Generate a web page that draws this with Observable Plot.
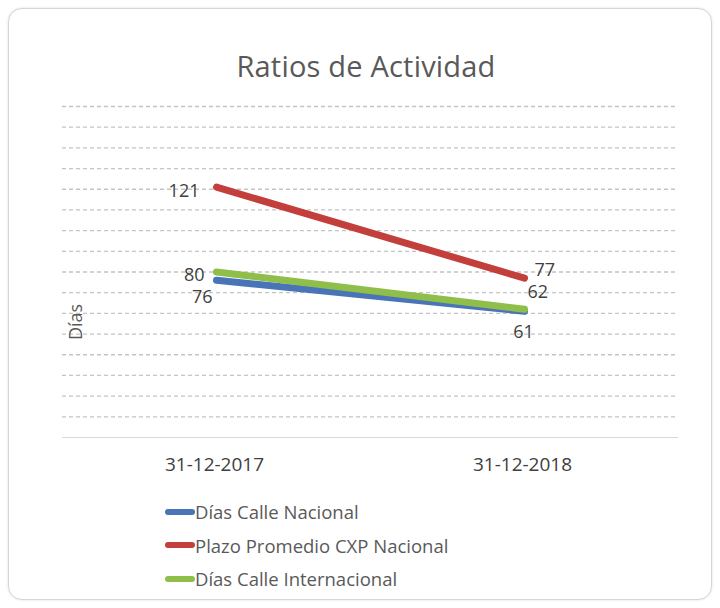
<!DOCTYPE html>
<html>
<head>
<meta charset="utf-8">
<script src="https://cdn.jsdelivr.net/npm/d3@7"></script>
<script src="https://cdn.jsdelivr.net/npm/@observablehq/plot@0.6"></script>
<style>
  html, body { margin: 0; padding: 0; background: #ffffff; }
  body { width: 720px; height: 608px; position: relative; overflow: hidden; font-family: "Open Sans", sans-serif; }
  #card { position: absolute; left: 8px; top: 8px; width: 702px; height: 590px; border: 1px solid #d6d6d6; border-radius: 14px; box-shadow: 0 0 3px rgba(0,0,0,0.12); background: #fff; }
  #title { position: absolute; left: 0; width: 732px; top: 46px; text-align: center; font-size: 29px; color: #595959; letter-spacing: 0.2px; }
  #chart { position: absolute; left: 0; top: 80px; }
  #ylab { position: absolute; left: 55px; top: 310px; transform: rotate(-90deg); transform-origin: center; font-size: 18px; color: #595959; width: 40px; text-align: center; }
  #legend { position: absolute; left: 165px; top: 495px; font-size: 18.5px; color: #595959; }
  .item { height: 33.5px; display: flex; align-items: center; }
  .sw { width: 30px; height: 6px; border-radius: 3px; margin-right: 0px; }
</style>
</head>
<body>
<div id="card"></div>
<div id="title">Ratios de Actividad</div>
<div id="chart"></div>
<div id="ylab">Días</div>
<div id="legend"></div>
<script>
const categories = ["31-12-2017", "31-12-2018"];
const seriesNames = ["Días Calle Nacional", "Plazo Promedio CXP Nacional", "Días Calle Internacional"];
const diasCalleNacional = [76, 61];
const plazoPromedioCXP = [121, 77];
const diasCalleInternacional = [80, 62];
const gridTicks = d3.range(10, 161, 10);
const colors = ["#4a74b8", "#c23f3c", "#8fbf4a"];

const seriesValues = [diasCalleNacional, plazoPromedioCXP, diasCalleInternacional];
const data = seriesNames.flatMap((s, i) => categories.map((c, j) => ({series: s, date: c, value: seriesValues[i][j], idx: j})));

const labelStyle = {fill: "#404040", fontSize: 18, fontFamily: "Open Sans, sans-serif"};
const sel = (s, j) => data.filter(d => d.series === s && d.idx === j);

const chart = Plot.plot({
  width: 720,
  height: 400,
  marginTop: 26,
  marginBottom: 43,
  marginLeft: 62,
  marginRight: 42,
  style: {fontFamily: "Open Sans, sans-serif", fontSize: "18px", color: "#595959", background: "transparent"},
  x: {type: "band", domain: categories, padding: 0, label: null},
  y: {domain: [0, 160], axis: null},
  color: {domain: seriesNames, range: colors},
  marks: [
    Plot.ruleY(gridTicks, {stroke: "#c4c4c4", strokeWidth: 1.3, strokeDasharray: "4,3"}),
    Plot.ruleY([0], {stroke: "#d9d9d9", strokeWidth: 1}),
    Plot.axisX({tickSize: 0, tickPadding: 20, fontSize: 19, fill: "#404040", dx: -2}),
    Plot.line(data.filter(d => d.series === seriesNames[0]), {x: "date", y: "value", stroke: "series", strokeWidth: 7, strokeLinecap: "round"}),
    Plot.line(data.filter(d => d.series === seriesNames[1]), {x: "date", y: "value", stroke: "series", strokeWidth: 7, strokeLinecap: "round"}),
    Plot.line(data.filter(d => d.series === seriesNames[2]), {x: "date", y: "value", stroke: "series", strokeWidth: 7, strokeLinecap: "round"}),
    Plot.text(sel(seriesNames[1], 0), {x: "date", y: "value", text: "value", textAnchor: "end", dx: -17, dy: 4, ...labelStyle}),
    Plot.text(sel(seriesNames[2], 0), {x: "date", y: "value", text: "value", textAnchor: "end", dx: -12, dy: 3, ...labelStyle}),
    Plot.text(sel(seriesNames[0], 0), {x: "date", y: "value", text: "value", textAnchor: "end", dx: -4, dy: 17, ...labelStyle}),
    Plot.text(sel(seriesNames[1], 1), {x: "date", y: "value", text: "value", textAnchor: "start", dx: 10, dy: -8, ...labelStyle}),
    Plot.text(sel(seriesNames[2], 1), {x: "date", y: "value", text: "value", textAnchor: "start", dx: 3, dy: -17, ...labelStyle}),
    Plot.text(sel(seriesNames[0], 1), {x: "date", y: "value", text: "value", textAnchor: "middle", dx: -1, dy: 21, ...labelStyle})
  ]
});
document.getElementById("chart").appendChild(chart);

const legend = document.getElementById("legend");
seriesNames.forEach((s, i) => {
  const row = document.createElement("div");
  row.className = "item";
  const sw = document.createElement("div");
  sw.className = "sw";
  sw.style.background = colors[i];
  const t = document.createElement("span");
  t.textContent = s;
  row.appendChild(sw);
  row.appendChild(t);
  legend.appendChild(row);
});
</script>
</body>
</html>
